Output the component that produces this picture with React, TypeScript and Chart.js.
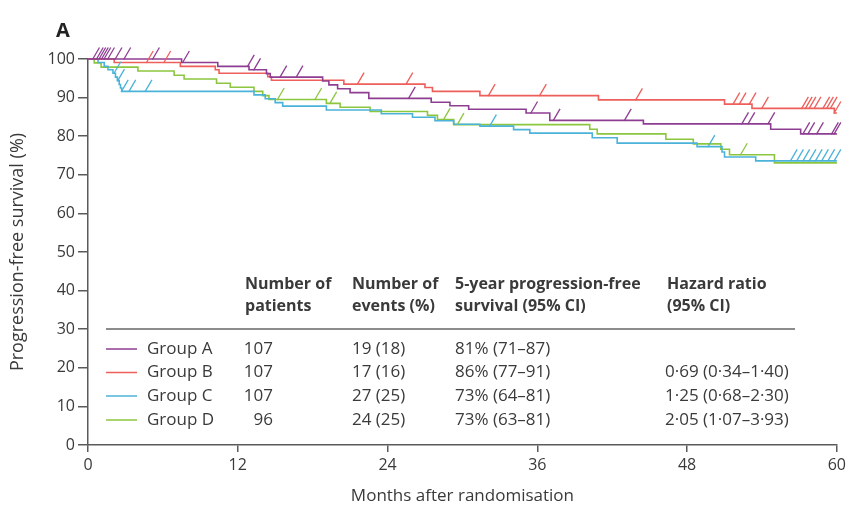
import React, { useEffect, useRef } from 'react';
import { Chart, registerables } from 'chart.js';

Chart.register(...registerables);

// ---- Data ----
const groups = ['Group A', 'Group B', 'Group C', 'Group D'];
const colors = ['#8E3E92', '#EE5F5B', '#4BB3D9', '#8CC63F'];

// Kaplan-Meier step times (months) and survival after each step (%)
const timesA = [7.5, 10.4, 12.9, 14.3, 14.6, 18.8, 19.3, 20.0, 21.0, 22.5, 27.5, 29.0, 30.5, 35.1, 37.0, 44.5, 54.7, 57.1];
const survA = [99.1, 98.1, 97.2, 96.2, 95.3, 94.3, 93.3, 92.3, 91.3, 89.8, 88.8, 87.9, 87.0, 86.0, 84.1, 83.2, 81.8, 80.6];
const censorA = [0.4, 0.7, 0.9, 1.1, 1.3, 1.6, 2.2, 2.9, 5.2, 7.6, 12.8, 13.3, 15.4, 16.7, 25.7, 35.5, 37.3, 43.0, 52.4, 52.9, 54.5, 57.3, 57.7, 58.4, 59.6, 59.8];

const timesB = [2.1, 7.4, 10.2, 10.5, 14.4, 14.7, 20.5, 27.0, 27.6, 31.4, 40.9, 51.0, 53.2, 59.8];
const survB = [99.1, 98.1, 97.2, 96.3, 95.4, 94.5, 93.5, 92.6, 91.6, 90.5, 89.4, 88.3, 87.2, 86.0];
const censorB = [4.7, 6.1, 21.6, 25.5, 32.1, 36.2, 43.9, 51.7, 52.2, 53.0, 54.0, 57.2, 57.5, 57.8, 58.2, 58.9, 59.2, 59.5, 59.8];

const timesC = [0.8, 1.3, 1.6, 2.0, 2.2, 2.35, 2.5, 2.6, 2.7, 13.3, 14.2, 15.0, 15.6, 19.1, 23.5, 26.0, 27.8, 29.3, 31.4, 34.1, 35.4, 40.4, 42.4, 48.8, 50.8, 51.0, 53.5];
const survC = [99.1, 98.1, 97.2, 96.3, 95.3, 94.4, 93.4, 92.5, 91.6, 90.7, 89.7, 88.7, 87.8, 86.8, 85.8, 84.9, 84.0, 83.1, 82.6, 81.7, 80.8, 79.6, 78.2, 77.3, 75.9, 74.6, 73.6];
const censorC = [2.1, 2.4, 2.7, 3.3, 4.6, 32.2, 49.7, 56.3, 56.8, 57.3, 57.8, 58.3, 58.8, 59.3, 59.8];

const timesD = [0.5, 1.05, 4.0, 6.9, 7.7, 10.3, 11.4, 13.3, 14.0, 14.5, 19.1, 20.2, 22.6, 27.2, 28.0, 29.3, 40.2, 40.8, 46.3, 48.5, 50.7, 51.4, 55.0];
const survD = [99.0, 97.9, 96.9, 95.8, 94.8, 93.7, 92.7, 91.6, 90.5, 89.5, 88.5, 87.5, 86.4, 85.4, 84.3, 83.0, 81.8, 80.6, 79.2, 78.0, 76.6, 75.2, 73.1];
const censorD = [15.2, 18.2, 19.4, 28.5, 29.6, 52.3];

// Table
const patients = ['107', '107', '107', '96'];
const events = ['19 (18)', '17 (16)', '27 (25)', '24 (25)'];
const pfs5 = ['81% (71–87)', '86% (77–91)', '73% (64–81)', '73% (63–81)'];
const hazard = ['', '0·69 (0·34–1·40)', '1·25 (0·68–2·30)', '2·05 (1·07–3·93)'];
const headerLine1 = ['Number of', 'Number of', '5-year progression-free', 'Hazard ratio'];
const headerLine2 = ['patients', 'events (%)', 'survival (95% CI)', '(95% CI)'];

const xTicks = [0, 12, 24, 36, 48, 60];
const yTicks = [0, 10, 20, 30, 40, 50, 60, 70, 80, 90, 100];

const series = [
  { times: timesA, surv: survA, censor: censorA },
  { times: timesB, surv: survB, censor: censorB },
  { times: timesC, surv: survC, censor: censorC },
  { times: timesD, surv: survD, censor: censorD },
];

function survAt(times: number[], surv: number[], t: number) {
  let v = 100;
  for (let i = 0; i < times.length; i++) {
    if (times[i] <= t) v = surv[i];
  }
  return v;
}

const FONT = '"Open Sans", "Noto Sans", sans-serif';
const TEXT = '#3a3a3a';
const AXIS = '#5a5a5a';

const overlay = {
  id: 'overlay',
  afterDatasetsDraw(chart: any) {
    const { ctx, scales, chartArea } = chart;
    const x = scales.x;
    const y = scales.y;
    ctx.save();
    // censor marks
    series.forEach((s, i) => {
      ctx.strokeStyle = colors[i];
      ctx.lineWidth = 1.3;
      s.censor.forEach((t) => {
        const v = survAt(s.times, s.surv, t);
        const px = x.getPixelForValue(t);
        const py = y.getPixelForValue(v);
        ctx.beginPath();
        ctx.moveTo(px - 0.5, py + 0.5);
        ctx.lineTo(px + 6.5, py - 11.5);
        ctx.stroke();
      });
    });

    // panel label
    ctx.fillStyle = '#222';
    ctx.font = `bold 20px ${FONT}`;
    ctx.textBaseline = 'middle';
    ctx.textAlign = 'left';
    ctx.fillText('A', chartArea.left - 32, 31);

    // table
    const L = chartArea.left;
    const colX = [L + 157, L + 264, L + 367, L + 579];
    ctx.font = `bold 16px ${FONT}`;
    ctx.fillStyle = TEXT;
    headerLine1.forEach((h, i) => ctx.fillText(h, colX[i], 284));
    headerLine2.forEach((h, i) => ctx.fillText(h, colX[i], 306));

    ctx.strokeStyle = '#666';
    ctx.lineWidth = 1.5;
    ctx.beginPath();
    ctx.moveTo(L + 18, 329);
    ctx.lineTo(L + 707, 329);
    ctx.stroke();

    const rowY = [349, 372.5, 396, 420];
    ctx.font = `17px ${FONT}`;
    groups.forEach((g, i) => {
      const ry = rowY[i];
      ctx.strokeStyle = colors[i];
      ctx.lineWidth = 1.5;
      ctx.beginPath();
      ctx.moveTo(L + 18, ry);
      ctx.lineTo(L + 49, ry);
      ctx.stroke();
      ctx.fillStyle = TEXT;
      ctx.textAlign = 'left';
      ctx.fillText(g, L + 59, ry);
      ctx.textAlign = 'right';
      ctx.fillText(patients[i], L + 185, ry);
      ctx.textAlign = 'left';
      ctx.fillText(events[i], colX[1], ry);
      ctx.fillText(pfs5[i], colX[2], ry);
      if (hazard[i]) ctx.fillText(hazard[i], colX[3] - 2, ry);
    });
    ctx.restore();
  },
};

export default function App() {
  const ref = useRef<HTMLCanvasElement | null>(null);
  useEffect(() => {
    if (!ref.current) return;
    const datasets = series.map((s, i) => ({
      label: groups[i],
      data: [{ x: 0, y: 100 }, ...s.times.map((t, k) => ({ x: t, y: s.surv[k] })), { x: 60, y: s.surv[s.surv.length - 1] }],
      borderColor: colors[i],
      borderWidth: 1.6,
      pointRadius: 0,
      stepped: true,
      fill: false,
      clip: false,
      tension: 0,
    }));
    const chart = new Chart(ref.current, {
      type: 'line',
      data: { datasets },
      options: {
        responsive: false,
        animation: false,
        events: [],
        layout: { padding: { top: 59, right: 12, bottom: 0, left: 0 } },
        plugins: { legend: { display: false }, tooltip: { enabled: false }, title: { display: false } },
        scales: {
          x: {
            type: 'linear',
            min: 0,
            max: 60,
            afterFit: (s: any) => { s.height = 62; },
            afterBuildTicks: (s: any) => { s.ticks = xTicks.map((v) => ({ value: v })); },
            grid: { display: true, drawOnChartArea: false, drawTicks: true, tickLength: 7, color: AXIS, lineWidth: 1.5 },
            border: { display: true, color: AXIS, width: 1.5 },
            ticks: { color: TEXT, font: { family: FONT, size: 16 }, padding: 4, maxRotation: 0 },
            title: { display: true, text: 'Months after randomisation', color: TEXT, font: { family: FONT, size: 17 }, padding: { top: 0, bottom: 1 } },
          },
          y: {
            type: 'linear',
            min: 0,
            max: 100,
            afterFit: (s: any) => { s.width = 88; },
            afterBuildTicks: (s: any) => { s.ticks = yTicks.map((v) => ({ value: v })); },
            grid: { display: true, drawOnChartArea: false, drawTicks: true, tickLength: 10, color: AXIS, lineWidth: 1.5 },
            border: { display: true, color: AXIS, width: 1.5 },
            ticks: { color: TEXT, font: { family: FONT, size: 16 }, padding: 3 },
            title: { display: true, text: 'Progression-free survival (%)', color: TEXT, font: { family: FONT, size: 18 }, padding: { top: 7, bottom: 0 } },
          },
        },
      },
      plugins: [overlay],
    });
    return () => chart.destroy();
  }, []);
  return (
    <div style={{ position: 'absolute', left: 0, top: 0, width: 850, height: 507, background: '#fff' }}>
      <canvas ref={ref} width={850} height={507} style={{ display: 'block', width: 850, height: 507 }} />
    </div>
  );
}
